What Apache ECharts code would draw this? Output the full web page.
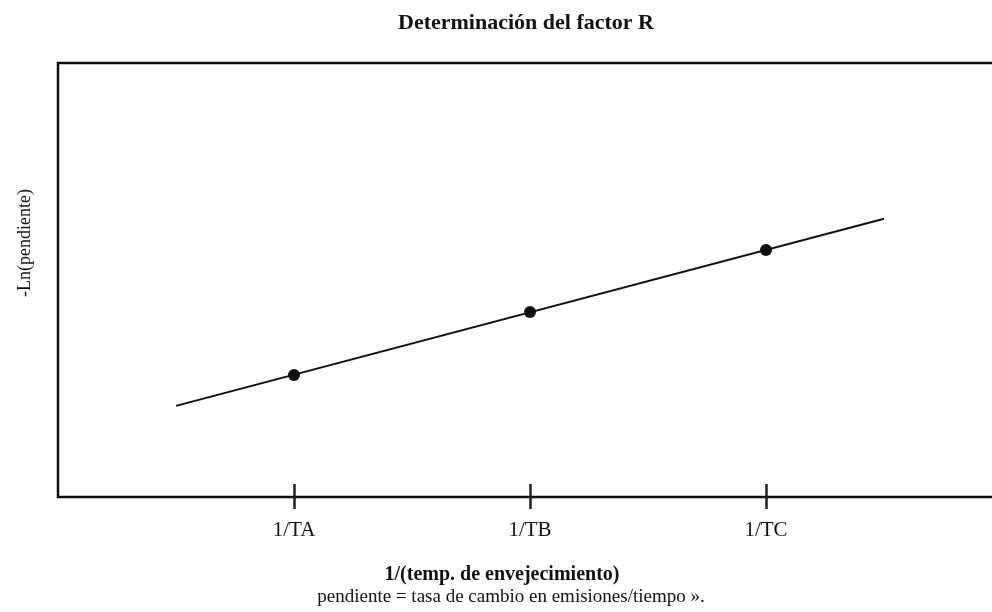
<!DOCTYPE html>
<html><head><meta charset="utf-8">
<script src="https://cdn.jsdelivr.net/npm/echarts@6/dist/echarts.min.js"></script>
<style>html,body{margin:0;padding:0;background:#fff}#c{width:992px;height:612px}</style>
</head><body><div id="c"></div>
<script>
const tickValues = [1, 2, 3];
const tickLabels = ['1/TA', '1/TB', '1/TC'];
const pointX = [1, 2, 3];
const pointY = [2.81, 4.26, 5.69];
const lineX = [0.5, 3.5];
const lineY = [2.10, 6.41];
const titleText = 'Determinación del factor R';
const xName = '1/(temp. de envejecimiento)';
const yName = '-Ln(pendiente)';
const noteText = 'pendiente = tasa de cambio en emisiones/tiempo ».';

const FONT = 'Liberation Serif';
const chart = echarts.init(document.getElementById('c'), null, {renderer: 'canvas'});
const labelMap = {};
tickValues.forEach((v, i) => labelMap[v] = tickLabels[i]);

chart.setOption({
  animation: false,
  backgroundColor: '#fff',
  grid: {left: 58, top: 63, width: 944, height: 434, outerBoundsMode: 'none', containLabel: false,
    show: true, borderColor: '#111', borderWidth: 2.5, backgroundColor: 'transparent'},
  xAxis: [{
    type: 'value', min: 0, max: 4, position: 'bottom',
    axisLine: {show: false},
    splitLine: {show: false},
    axisTick: {show: true, customValues: tickValues, length: 12, inside: false, lineStyle: {color: '#222', width: 2.5}},
    axisLabel: {show: true, customValues: tickValues, margin: 23, formatter: v => labelMap[v] || '',
      fontFamily: FONT, fontSize: 21, color: '#111'}
  }, {
    type: 'value', min: 0, max: 4, position: 'bottom', offset: 0,
    axisLine: {show: false}, splitLine: {show: false},
    axisTick: {show: true, customValues: tickValues, length: 13, inside: true, lineStyle: {color: '#222', width: 2.5}},
    axisLabel: {show: false}
  }],
  yAxis: {type: 'value', min: 0, max: 10, show: false},
  series: [{
    type: 'line', data: lineX.map((x, i) => [x, lineY[i]]), symbol: 'none',
    lineStyle: {color: '#111', width: 2}
  }, {
    type: 'scatter', data: pointX.map((x, i) => [x, pointY[i]]), symbol: 'circle', symbolSize: 12,
    itemStyle: {color: '#111', opacity: 1}
  }],
  graphic: [
    {type: 'text', style: {text: titleText, fontFamily: FONT, fontSize: 22, fontWeight: 'bold', fill: '#111', textAlign: 'center', textVerticalAlign: 'middle'}, position: [526, 23]},
    {type: 'text', style: {text: xName, fontFamily: FONT, fontSize: 20, fontWeight: 'bold', fill: '#111', textAlign: 'center', textVerticalAlign: 'middle'}, position: [502, 575]},
    {type: 'text', style: {text: noteText, fontFamily: FONT, fontSize: 19, fill: '#111', textAlign: 'center', textVerticalAlign: 'middle'}, position: [511, 597]},
    {type: 'text', rotation: Math.PI / 2, style: {text: yName, fontFamily: FONT, fontSize: 18, fill: '#111', textAlign: 'center', textVerticalAlign: 'middle'}, position: [25, 243]}
  ]
});
</script></body></html>
